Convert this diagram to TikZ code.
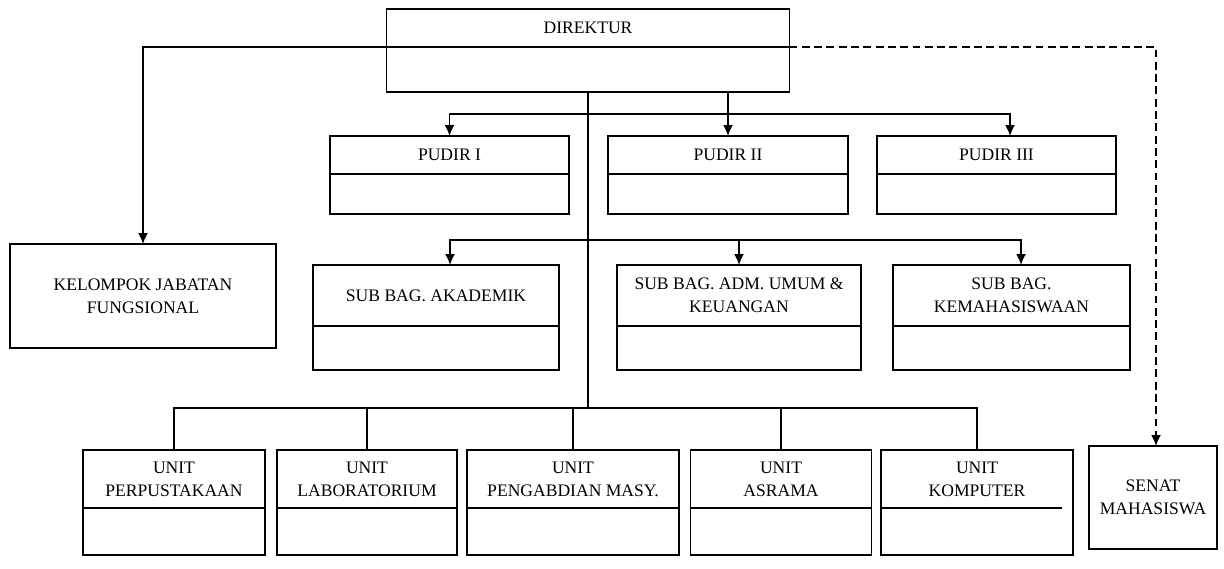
\documentclass[tikz,border=0pt]{standalone}
\usepackage{fontspec}
\setmainfont{Liberation Serif}
\usetikzlibrary{arrows.meta,positioning}

\tikzset{
  box/.style={draw, rectangle, line width=1pt, outer sep=0pt, inner sep=2pt, align=center, font=\fontsize{10}{13}\selectfont},
  lowpart/.style={draw, rectangle, line width=1pt, outer sep=0pt, minimum height=#1},
  link/.style={line width=1pt},
  arr/.style={link, -{Latex[length=2.2mm,width=2mm]}},
}

\begin{document}
\begin{tikzpicture}
    \useasboundingbox (0,0) rectangle (24.48,-11.36);

    % Direktur
    \node[box, anchor=north west, minimum width=8.06cm, minimum height=0.76cm] (direktur) at (7.73,-0.18) {DIREKTUR};
    \node[lowpart=0.9cm, minimum width=8.06cm, below=0pt of direktur] (direktur-low) {};

    % Pudir row
    \node[box, anchor=north west, minimum width=4.78cm, minimum height=0.76cm] (pudir1) at (6.60,-2.72) {PUDIR I};
    \node[lowpart=0.8cm, minimum width=4.78cm, below=0pt of pudir1] (pudir1-low) {};
    \node[box, anchor=north west, minimum width=4.80cm, minimum height=0.76cm] (pudir2) at (12.16,-2.72) {PUDIR II};
    \node[lowpart=0.8cm, minimum width=4.80cm, below=0pt of pudir2] (pudir2-low) {};
    \node[box, anchor=north west, minimum width=4.78cm, minimum height=0.76cm] (pudir3) at (17.54,-2.72) {PUDIR III};
    \node[lowpart=0.8cm, minimum width=4.78cm, below=0pt of pudir3] (pudir3-low) {};

    % Sub bagian row
    \node[box, anchor=north west, minimum width=5.32cm, minimum height=2.08cm] (kelompok) at (0.20,-4.88)
        {KELOMPOK JABATAN\\FUNGSIONAL};
    \node[box, anchor=north west, minimum width=4.92cm, minimum height=1.22cm] (akademik) at (6.26,-5.30)
        {SUB BAG. AKADEMIK};
    \node[lowpart=0.88cm, minimum width=4.92cm, below=0pt of akademik] (akademik-low) {};
    \node[box, anchor=north west, minimum width=4.88cm, minimum height=1.22cm] (keuangan) at (12.34,-5.30)
        {SUB BAG. ADM. UMUM \&\\KEUANGAN};
    \node[lowpart=0.88cm, minimum width=4.88cm, below=0pt of keuangan] (keuangan-low) {};
    \node[box, anchor=north west, minimum width=4.74cm, minimum height=1.22cm] (kemahasiswaan) at (17.86,-5.30)
        {SUB BAG.\\KEMAHASISWAAN};
    \node[lowpart=0.88cm, minimum width=4.74cm, below=0pt of kemahasiswaan] (kemahasiswaan-low) {};

    % Unit row
    \node[box, anchor=north west, minimum width=3.64cm, minimum height=1.16cm] (perpus) at (1.66,-9.00)
        {UNIT\\PERPUSTAKAAN};
    \node[lowpart=0.94cm, minimum width=3.64cm, below=0pt of perpus] (perpus-low) {};
    \node[box, anchor=north west, minimum width=3.60cm, minimum height=1.16cm] (lab) at (5.54,-9.00)
        {UNIT\\LABORATORIUM};
    \node[lowpart=0.94cm, minimum width=3.60cm, below=0pt of lab] (lab-low) {};
    \node[box, anchor=north west, minimum width=4.24cm, minimum height=1.16cm] (pengabdian) at (9.34,-9.00)
        {UNIT\\PENGABDIAN MASY.};
    \node[lowpart=0.94cm, minimum width=4.24cm, below=0pt of pengabdian] (pengabdian-low) {};
    \node[box, anchor=north west, minimum width=3.62cm, minimum height=1.16cm] (asrama) at (13.81,-9.00)
        {UNIT\\ASRAMA};
    \node[lowpart=0.94cm, minimum width=3.62cm, below=0pt of asrama] (asrama-low) {};
    \node[box, draw=none, anchor=north west, minimum width=3.84cm, minimum height=1.16cm] (komputer) at (17.62,-9.00)
        {UNIT\\KOMPUTER};
    \node[lowpart=0.94cm, draw=none, minimum width=3.84cm, below=0pt of komputer] (komputer-low) {};
    \draw[link] (komputer.north west) rectangle (komputer-low.south east);
    \draw[link] (komputer.south west) -- ([xshift=-0.22cm]komputer.south east);

    \node[box, anchor=north west, minimum width=2.56cm, minimum height=2.06cm] (senat) at (21.78,-8.92)
        {SENAT\\MAHASISWA};

    % Buses
    \coordinate (pbus) at (0,-2.28);
    \coordinate (sbus) at (0,-4.80);
    \coordinate (ubus) at (0,-8.16);

    % Connectors
    \draw[link] (direktur-low.south) -- (direktur-low.south |- ubus);
    \draw[arr] (direktur-low.south |- pbus) -| (pudir1.north);
    \draw[arr] (direktur-low.south |- pbus) -| ([xshift=0.27cm]pudir3.north);
    \draw[arr] (direktur-low.south -| pudir2.north) -- (pudir2.north);
    \draw[arr] (direktur-low.south |- sbus) -| ([xshift=0.28cm]akademik.north);
    \draw[arr] (direktur-low.south |- sbus) -| ([xshift=0.19cm]kemahasiswaan.north);
    \draw[arr] (keuangan.north |- sbus) -- (keuangan.north);
    \draw[link] (perpus.north) |- (komputer.north |- ubus) -- (komputer.north);
    \foreach \u in {lab, pengabdian, asrama}
        \draw[link] (\u.north) -- (\u.north |- ubus);

    \draw[arr] (direktur.south west) -| (kelompok.north);
    \draw[arr, dash pattern=on 4.5pt off 2.5pt] (direktur.south east) -| ([xshift=0.06cm]senat.north);
\end{tikzpicture}
\end{document}
